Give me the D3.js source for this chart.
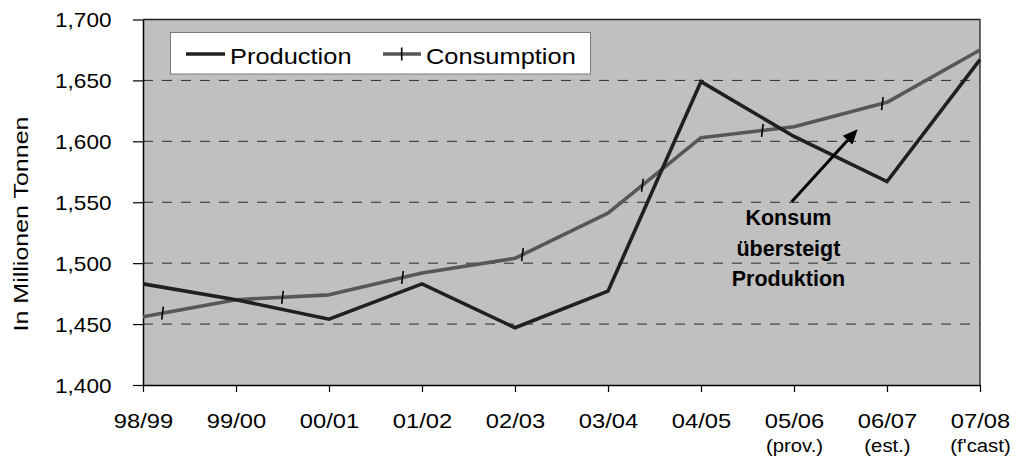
<!DOCTYPE html>
<html>
<head>
<meta charset="utf-8">
<script src="https://cdn.jsdelivr.net/npm/d3@7"></script>
<style>
  html, body { margin: 0; padding: 0; background: #fff; }
  svg { display: block; }
</style>
</head>
<body>
<svg id="chart" width="1017" height="459"></svg>
<script>
// Crop years on the category axis, with the status note printed under the last three
const categories = ["98/99", "99/00", "00/01", "01/02", "02/03", "03/04", "04/05", "05/06", "06/07", "07/08"];
const subLabels = ["", "", "", "", "", "", "", "(prov.)", "(est.)", "(f'cast)"];

// Million tonnes
const production = [1483, 1470, 1454, 1483, 1447, 1477, 1649, 1604, 1567, 1667];
const consumption = [1456, 1470, 1474, 1492, 1504, 1541, 1603, 1612, 1632, 1675];

// Positions (in category units) of the dash markers sitting on the consumption line
const consumptionMarks = [0.21, 1.50, 2.79, 4.08, 5.37, 6.66, 7.95];

const yTicks = [1400, 1450, 1500, 1550, 1600, 1650, 1700];
const gridValues = [1450, 1500, 1550, 1600, 1650];

const seriesNames = ["Production", "Consumption"];
const axisTitle = "In Millionen Tonnen";
const noteLines = ["Konsum", "übersteigt", "Produktion"];
// Annotation arrow: from below the note up towards the gap between the lines (category index, value)
const arrowFrom = [6.975, 1550.5];
const arrowTo = [7.685, 1610];

const FONT = "'Liberation Sans', Arial, Helvetica, sans-serif";
const SX = 1.13; // horizontal widening applied to the regular text

const svg = d3.select("#chart");
const plot = { left: 143, right: 980, top: 19.5, bottom: 385 };

const x = d3.scaleLinear().domain([0, categories.length - 1]).range([plot.left, plot.right]);
const y = d3.scaleLinear().domain([1400, 1700]).range([plot.bottom, plot.top]);

function label(parent, px, py, str, o) {
  const g = parent.append("g")
    .attr("transform", `translate(${px},${py}) rotate(${o.rotate || 0}) scale(${o.sx || 1},1)`);
  g.append("text")
    .attr("text-anchor", o.anchor || "start")
    .attr("fill", o.fill || "#000")
    .style("font-family", FONT)
    .style("font-size", o.size + "px")
    .style("font-weight", o.weight || "normal")
    .text(str);
  return g;
}

// Plot background
svg.append("rect")
  .attr("x", plot.left).attr("y", plot.top)
  .attr("width", plot.right - plot.left).attr("height", plot.bottom - plot.top)
  .attr("fill", "#c0c0c0");

// Dashed horizontal gridlines
svg.append("g").selectAll("line").data(gridValues).join("line")
  .attr("x1", plot.left).attr("x2", plot.right)
  .attr("y1", d => y(d)).attr("y2", d => y(d))
  .attr("stroke", "#2a2a2a").attr("stroke-width", 1)
  .attr("stroke-dasharray", "10,9");

// Top and right frame
svg.append("path")
  .attr("d", `M${plot.left},${plot.top}H${plot.right}V${plot.bottom}`)
  .attr("fill", "none").attr("stroke", "#222").attr("stroke-width", 1.3);

// Y axis
const yAxis = svg.append("g")
  .attr("transform", `translate(${plot.left},0)`)
  .call(d3.axisLeft(y).tickValues(yTicks).tickSize(10).tickSizeOuter(0).tickFormat(d3.format(",")));
yAxis.select(".domain").attr("stroke", "#000").attr("stroke-width", 1.5);
yAxis.selectAll(".tick line").attr("stroke", "#000").attr("stroke-width", 1.2);
yAxis.selectAll(".tick text")
  .attr("x", -31.5 / SX)
  .attr("dy", "0.36em")
  .attr("transform", `scale(${SX},1)`)
  .style("font-family", FONT).style("font-size", "20px").attr("fill", "#000");

// X axis
const xAxis = svg.append("g")
  .attr("transform", `translate(0,${plot.bottom})`)
  .call(d3.axisBottom(x).tickValues(d3.range(categories.length)).tickSize(7).tickSizeOuter(0)
    .tickFormat(i => categories[i]));
xAxis.select(".domain").attr("stroke", "#000").attr("stroke-width", 1.5);
xAxis.selectAll(".tick line").attr("stroke", "#000").attr("stroke-width", 1.2);
xAxis.selectAll(".tick text")
  .attr("y", 43).attr("dy", 0)
  .attr("transform", `scale(${SX},1)`)
  .style("font-family", FONT).style("font-size", "21px").attr("fill", "#000");
xAxis.selectAll(".tick").each(function (i) {
  if (subLabels[i]) {
    d3.select(this).append("text")
      .attr("y", 67).attr("text-anchor", "middle")
      .attr("transform", `scale(${SX},1)`)
      .style("font-family", FONT).style("font-size", "18px").attr("fill", "#000")
      .text(subLabels[i]);
  }
});

// Axis title
label(svg, 28, 224, axisTitle, { size: 21, anchor: "middle", rotate: -90, sx: 1.19 });

// Series lines
const line = d3.line().x((d, i) => x(i)).y(d => y(d));
svg.append("path").datum(consumption)
  .attr("d", line).attr("fill", "none")
  .attr("stroke", "#575757").attr("stroke-width", 3.6).attr("stroke-linejoin", "round");
svg.append("path").datum(production)
  .attr("d", line).attr("fill", "none")
  .attr("stroke", "#202020").attr("stroke-width", 3.6).attr("stroke-linejoin", "miter");

// Dash markers along the consumption line
const consAt = t => {
  const i = Math.min(Math.floor(t), consumption.length - 2);
  const f = t - i;
  return consumption[i] * (1 - f) + consumption[i + 1] * f;
};
svg.append("g").selectAll("line").data(consumptionMarks).join("line")
  .attr("x1", d => x(d) + 0.8).attr("x2", d => x(d) - 0.8)
  .attr("y1", d => y(consAt(d)) - 6.5).attr("y2", d => y(consAt(d)) + 6.5)
  .attr("stroke", "#000").attr("stroke-width", 1.6);

// Legend
const legend = svg.append("g");
legend.append("rect")
  .attr("x", 170.5).attr("y", 32.5).attr("width", 420).attr("height", 41.5)
  .attr("fill", "#fff").attr("stroke", "#7a7a7a").attr("stroke-width", 1);
legend.append("line")
  .attr("x1", 186).attr("x2", 225).attr("y1", 54).attr("y2", 54)
  .attr("stroke", "#202020").attr("stroke-width", 3.6);
label(legend, 230, 63.5, seriesNames[0], { size: 22.5, sx: SX });
legend.append("line")
  .attr("x1", 383).attr("x2", 421).attr("y1", 54).attr("y2", 54)
  .attr("stroke", "#575757").attr("stroke-width", 3.6);
legend.append("line")
  .attr("x1", 401.7).attr("x2", 401.7).attr("y1", 47.5).attr("y2", 60.5)
  .attr("stroke", "#000").attr("stroke-width", 1.6);
label(legend, 426, 63.5, seriesNames[1], { size: 22.5, sx: SX });

// Annotation arrow and note
const [ax0, ay0] = [x(arrowFrom[0]), y(arrowFrom[1])];
const [ax1, ay1] = [x(arrowTo[0]), y(arrowTo[1])];
const ang = Math.atan2(ay1 - ay0, ax1 - ax0);
const headLen = 15, headHalf = 6.5;
const bx = ax1 - headLen * Math.cos(ang), by = ay1 - headLen * Math.sin(ang);
svg.append("line")
  .attr("x1", ax0).attr("y1", ay0).attr("x2", bx).attr("y2", by)
  .attr("stroke", "#000").attr("stroke-width", 3);
svg.append("path")
  .attr("d", `M${ax1},${ay1}L${bx + headHalf * Math.sin(ang)},${by - headHalf * Math.cos(ang)}L${bx - headHalf * Math.sin(ang)},${by + headHalf * Math.cos(ang)}Z`)
  .attr("fill", "#000");

const noteX = x(6.94);
noteLines.forEach((s, k) => {
  label(svg, noteX, ay0 + 23.5 + k * 30.5, s, { size: 21.5, weight: "bold", anchor: "middle" });
});
</script>
</body>
</html>
